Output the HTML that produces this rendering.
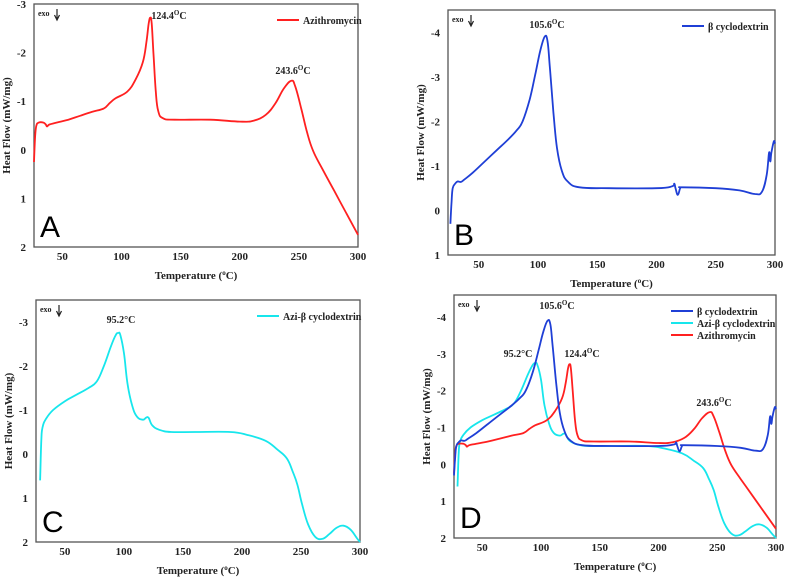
<!DOCTYPE html>
<html><head><meta charset="utf-8"><style>
body{margin:0;background:#fff;width:789px;height:580px;overflow:hidden}
svg{display:block}
text{font-family:"Liberation Serif",serif;font-weight:bold;fill:#222}
.panel{font-family:"Liberation Sans",sans-serif;font-weight:normal;fill:#000}
</style></head><body>
<svg id="chart" width="789" height="580"></svg>
<script>
// Data: [temperature °C, heat flow mW/mg]
const aziT = [26,27,28,30,34,36,37,39,45,55,65,75,85,90,95,105,112,118,121,123,124.4,125.5,127,129,131,135,145,175,200,212,222,230,237,243.6,247,252,257,262,270,280,290,300];
const aziH = [0.25,-0.3,-0.5,-0.56,-0.56,-0.52,-0.48,-0.52,-0.56,-0.62,-0.7,-0.78,-0.85,-0.96,-1.06,-1.2,-1.45,-1.8,-2.2,-2.6,-2.72,-2.6,-2.0,-1.2,-0.8,-0.65,-0.62,-0.62,-0.58,-0.6,-0.72,-0.95,-1.25,-1.42,-1.3,-0.85,-0.35,0.02,0.4,0.85,1.3,1.75];
const bcdT = [26,27,28,30,32,35,38,45,55,65,75,82,87,93,98,102,105.6,108,110,113,116,120,125,135,160,200,213,215,216,218,220,222,250,270,283,289,293,295,296,297,299,300];
const bcdH = [0.3,-0.2,-0.5,-0.6,-0.65,-0.64,-0.7,-0.85,-1.1,-1.35,-1.6,-1.8,-2.0,-2.5,-3.1,-3.6,-3.9,-3.8,-3.2,-2.2,-1.4,-0.9,-0.65,-0.52,-0.5,-0.5,-0.54,-0.6,-0.5,-0.35,-0.5,-0.52,-0.5,-0.45,-0.37,-0.42,-0.8,-1.3,-1.1,-1.3,-1.55,-1.5];
const cplT = [29,30,31,34,40,50,60,70,77,83,89,93,95.2,97,100,103,107,111,116,119,121,124,130,140,160,190,205,220,230,238,243,247,251,256,262,268,274,280,286,292,297,300];
const cplH = [0.6,-0.3,-0.6,-0.8,-1.0,-1.2,-1.35,-1.5,-1.65,-2.0,-2.45,-2.7,-2.75,-2.7,-2.3,-1.6,-1.1,-0.85,-0.78,-0.83,-0.82,-0.65,-0.55,-0.5,-0.5,-0.5,-0.43,-0.3,-0.1,0.1,0.4,0.7,1.15,1.6,1.88,1.93,1.82,1.68,1.63,1.72,1.9,2.0];
const xTicks = [50,100,150,200,250,300];
const yTicksA = [-3,-2,-1,0,1,2];
const yTicksB = [-4,-3,-2,-1,0,1];
const yTicksD = [-4,-3,-2,-1,0,1,2];
const RED='#ff2020', BLUE='#1f3fd6', CYAN='#17e6ec';
const NS='http://www.w3.org/2000/svg';
const svg=document.getElementById('chart');
function el(tag,attrs,parent,txt){const e=document.createElementNS(NS,tag);for(const k in attrs)e.setAttribute(k,attrs[k]);if(txt!==undefined)e.textContent=txt;(parent||svg).appendChild(e);return e;}
function smooth(pts){
  let d='M'+pts[0][0].toFixed(1)+' '+pts[0][1].toFixed(1);
  for(let i=0;i<pts.length-1;i++){
    const p0=pts[Math.max(0,i-1)],p1=pts[i],p2=pts[i+1],p3=pts[Math.min(pts.length-1,i+2)];
    const k=0.2;
    const c1=[p1[0]+(p2[0]-p0[0])*k,p1[1]+(p2[1]-p0[1])*k];
    const c2=[p2[0]-(p3[0]-p1[0])*k,p2[1]-(p3[1]-p1[1])*k];
    d+=` C${c1[0].toFixed(1)} ${c1[1].toFixed(1)} ${c2[0].toFixed(1)} ${c2[1].toFixed(1)} ${p2[0].toFixed(1)} ${p2[1].toFixed(1)}`;
  }
  return d;
}
function panel(p){
  const g=el('g',{},svg);
  
  
  const sx=t=>p.L+(t-p.x0)/(300-p.x0)*(p.R-p.L);
  const sy=v=>p.T+(v-p.y0)/(p.y1-p.y0)*(p.B-p.T);
  const box=el('rect',{x:p.L,y:p.T,width:p.R-p.L,height:p.B-p.T,fill:'none',stroke:'#555','stroke-width':1.3},g);
  
  
  xTicks.forEach(t=>{const tx=el('text',{x:sx(t),y:p.B+13,'text-anchor':'middle','font-size':11},g,String(t));
    
    });
  p.yt.forEach(v=>{const tx=el('text',{x:p.L-8,y:sy(v)+4,'text-anchor':'end','font-size':11},g,String(v));
    
    });
  const xt=el('text',{x:(p.L+p.R)/2,y:p.B+32,'text-anchor':'middle','font-size':11},g);
  xt.innerHTML='Temperature (<tspan baseline-shift="super" font-size="7">o</tspan>C)';
  
  
  const cy=(p.T+p.B)/2;
  const yt=el('text',{x:p.L-24,y:cy,'text-anchor':'middle','font-size':11,transform:`rotate(-90 ${p.L-24} ${cy})`},g,'Heat Flow (mW/mg)');
  
  
  const ex=el('text',{x:p.L+4,y:p.T+12,'font-size':8,'font-weight':'normal','fill':'#444'},g,'exo');
  
  
  const ar=el('path',{d:`M${p.L+23} ${p.T+5} v10 M${p.L+20.5} ${p.T+11} l2.5 5 l2.5 -5`,stroke:'#222',fill:'none','stroke-width':1.2},g);
  
  
  p.series.forEach(s=>{
    const pts=s.t.map((t,i)=>[sx(t),sy(s.h[i])]);
    const pa=el('path',{d:smooth(pts),fill:'none',stroke:s.c,'stroke-width':1.8,'stroke-linejoin':'round'},g);
    
    
  });
  p.legend.forEach((s,i)=>{
    const ly=p.T+16+i*12;
    const ln=el('line',{x1:p.lx,x2:p.lx+22,y1:ly,y2:ly,stroke:s.c,'stroke-width':2},g);
    
    
    const lt=el('text',{x:p.lx+26,y:ly+4,'font-size':10},g,s.label);
    
    
  });
  p.ann.forEach(a=>{
    const t=el('text',{x:a[0],y:a[1],'text-anchor':'middle','font-size':10},g);
    t.innerHTML=a[2];
    
    
  });
  const pl=el('text',{x:p.L+6,y:p.B-10,'font-size':30,'class':'panel'},g,p.id);
  
  
}
const SA={t:aziT,h:aziH,c:RED,n:'azithromycin',label:'Azithromycin'};
const SB={t:bcdT,h:bcdH,c:BLUE,n:'beta-cyclodextrin',label:'β cyclodextrin'};
const SC={t:cplT,h:cplH,c:CYAN,n:'azi-beta-cyclodextrin',label:'Azi-β cyclodextrin'};
const deg='<tspan baseline-shift="super" font-size="7">O</tspan>C';
panel({id:'A',L:34,R:358,T:4,B:247,x0:26,y0:-3,y1:2,yt:yTicksA,series:[SA],legend:[SA],lx:277,
  ann:[[169,19,'124.4'+deg],[293,74,'243.6'+deg]]});
panel({id:'B',L:448,R:775,T:10,B:255,x0:24,y0:-4.5,y1:1,yt:yTicksB,series:[SB],legend:[SB],lx:682,
  ann:[[547,28,'105.6'+deg]]});
panel({id:'C',L:36,R:360,T:300,B:542,x0:25.5,y0:-3.5,y1:2,yt:yTicksA,series:[SC],legend:[SC],lx:257,
  ann:[[121,323,'95.2°C']]});
panel({id:'D',L:454,R:776,T:295,B:538,x0:26,y0:-4.6,y1:2,yt:yTicksD,series:[SC,SA,SB],legend:[SB,SC,SA],lx:671,
  ann:[[557,309,'105.6'+deg],[518,357,'95.2°C'],[582,357,'124.4'+deg],[714,406,'243.6'+deg]]});
</script>
</body></html>
